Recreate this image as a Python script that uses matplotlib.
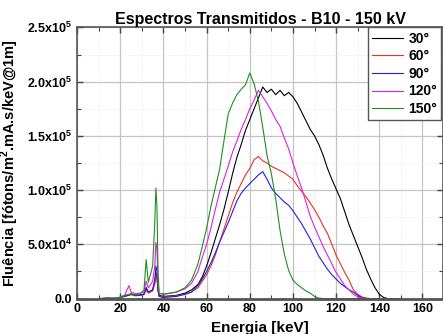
import matplotlib
matplotlib.use('Agg')
import matplotlib.pyplot as plt
from matplotlib.ticker import MultipleLocator

# Espectros transmitidos - B10 - 150 kV (unidade: 1e5)
energia = [10, 14, 18, 20, 22, 24, 25, 27, 29, 31, 32, 33, 35, 36, 36.5, 37, 37.5, 38,
           40, 43, 46, 50, 53, 56, 58, 60, 62, 64, 66, 68, 70, 72, 74, 76, 78, 80,
           82, 84, 86, 88, 90, 92, 94, 96, 98, 100, 102, 104, 106, 108, 110, 112,
           114, 116, 118, 120, 122, 124, 126, 128, 130, 132, 134, 136, 138, 140,
           142, 144, 150]

f30 = [0, 0, 0.003, 0.01, 0.025, 0.03, 0.045, 0.03, 0.035, 0.04, 0.1, 0.06, 0.08, 0.15, 0.24, 0.2, 0.08, 0.03,
       0.02, 0.025, 0.03, 0.05, 0.08, 0.13, 0.2, 0.3, 0.42, 0.55, 0.68, 0.82, 0.98, 1.15, 1.3, 1.42, 1.55, 1.65,
       1.75, 1.85, 1.95, 1.9, 1.93, 1.88, 1.92, 1.87, 1.9, 1.86, 1.8, 1.72, 1.64, 1.56, 1.5, 1.42,
       1.32, 1.2, 1.1, 1.01, 0.92, 0.8, 0.68, 0.58, 0.48, 0.38, 0.27, 0.18, 0.1, 0.04,
       0.01, 0, 0]
f60 = [0, 0, 0.002, 0.008, 0.02, 0.03, 0.035, 0.025, 0.03, 0.035, 0.08, 0.05, 0.07, 0.14, 0.22, 0.18, 0.07, 0.02,
       0.015, 0.02, 0.025, 0.04, 0.06, 0.1, 0.16, 0.22, 0.3, 0.4, 0.52, 0.64, 0.76, 0.88, 0.98, 1.06, 1.14, 1.2,
       1.28, 1.31, 1.27, 1.25, 1.22, 1.2, 1.18, 1.16, 1.13, 1.1, 1.04, 0.99, 0.94, 0.88, 0.82, 0.75,
       0.67, 0.6, 0.5, 0.4, 0.32, 0.24, 0.17, 0.08, 0.04, 0.015, 0.005, 0, 0, 0,
       0, 0, 0]
f90 = [0, 0, 0.002, 0.01, 0.02, 0.035, 0.04, 0.03, 0.03, 0.04, 0.1, 0.06, 0.08, 0.18, 0.3, 0.25, 0.08, 0.02,
       0.01, 0.015, 0.02, 0.04, 0.06, 0.12, 0.18, 0.25, 0.33, 0.42, 0.52, 0.61, 0.7, 0.8, 0.9, 0.97, 1.02, 1.06,
       1.1, 1.14, 1.17, 1.1, 1.02, 0.97, 0.93, 0.89, 0.86, 0.81, 0.75, 0.69, 0.62, 0.55, 0.47, 0.39,
       0.33, 0.27, 0.22, 0.18, 0.14, 0.11, 0.08, 0.06, 0.03, 0.01, 0, 0, 0, 0,
       0, 0, 0]
f120 = [0, 0, 0.003, 0.01, 0.03, 0.12, 0.06, 0.045, 0.05, 0.06, 0.16, 0.1, 0.16, 0.3, 0.52, 0.45, 0.15, 0.05,
        0.04, 0.05, 0.06, 0.09, 0.14, 0.25, 0.38, 0.5, 0.65, 0.82, 0.98, 1.1, 1.22, 1.35, 1.45, 1.56, 1.65, 1.75,
        1.83, 1.92, 1.86, 1.8, 1.73, 1.65, 1.59, 1.48, 1.38, 1.25, 1.13, 1.02, 0.89, 0.76, 0.66, 0.57,
        0.48, 0.4, 0.32, 0.24, 0.18, 0.12, 0.08, 0.04, 0.015, 0.005, 0, 0, 0, 0,
        0, 0, 0]
f150 = [0, 0.01, 0.003, 0.015, 0.03, 0.04, 0.04, 0.035, 0.04, 0.08, 0.36, 0.15, 0.3, 0.7, 1.02, 0.85, 0.25, 0.05,
        0.04, 0.05, 0.06, 0.1, 0.17, 0.32, 0.48, 0.65, 0.85, 1.02, 1.19, 1.45, 1.7, 1.8, 1.88, 1.93, 1.97, 2.08,
        1.98, 1.82, 1.58, 1.32, 1.15, 0.92, 0.63, 0.41, 0.26, 0.17, 0.13, 0.1, 0.07, 0.05, 0.02, 0.005,
        0, 0, 0, 0, 0, 0, 0, 0, 0, 0, 0, 0, 0, 0,
        0, 0, 0]

series = [f30, f60, f90, f120, f150]
nomes = ['30°', '60°', '90°', '120°', '150°']
cores = ['black', '#e8322a', '#2020e0', '#e020e0', '#1e901e']

xticks = [0, 20, 40, 60, 80, 100, 120, 140, 160]
yticks = [0, 0.5e5, 1.0e5, 1.5e5, 2.0e5, 2.5e5]
ylabels = ['0.0', r'5.0x10$^{\mathbf{4}}$', r'1.0x10$^{\mathbf{5}}$', r'1.5x10$^{\mathbf{5}}$',
           r'2.0x10$^{\mathbf{5}}$', r'2.5x10$^{\mathbf{5}}$']

plt.rcParams['font.family'] = 'Liberation Sans'
plt.rcParams['font.weight'] = 'bold'
plt.rcParams['mathtext.fontset'] = 'custom'
plt.rcParams['mathtext.rm'] = 'Liberation Sans:bold'
plt.rcParams['mathtext.bf'] = 'Liberation Sans:bold'

fig = plt.figure(figsize=(4.43, 3.34), dpi=100)
ax = fig.add_axes([0.174, 0.106, 0.826, 0.812])

for v, n, c in zip(series, nomes, cores):
    ax.plot(energia, [y * 1e5 for y in v], color=c, linewidth=0.8, label=n)

ax.set_xlim(0, 169.5)
ax.set_ylim(0, 2.5e5)
ax.set_xticks(xticks)
ax.set_xticklabels([str(t) for t in xticks], fontsize=9, fontweight='bold')
ax.set_yticks(yticks)
ax.set_yticklabels(ylabels, fontsize=9, fontweight='bold')
ax.xaxis.set_minor_locator(MultipleLocator(10))
ax.yaxis.set_minor_locator(MultipleLocator(0.25e5))
ax.tick_params(which='both', direction='in', top=True, right=True, color='#444444')
ax.tick_params(which='major', length=4, width=1)
ax.tick_params(which='minor', length=3, width=0.8)
ax.grid(which='major', color='#c4c4c4', linewidth=0.9)
ax.grid(which='minor', color='#e4e4e4', linewidth=0.6, linestyle=':')
ax.set_axisbelow(True)
for s in ['left', 'top', 'right']:
    ax.spines[s].set_color('#555555')
    ax.spines[s].set_linewidth(1.2)
ax.spines['bottom'].set_color('#555555')
ax.spines['bottom'].set_linewidth(2)

ax.set_title('Espectros Transmitidos - B10 - 150 kV', fontsize=11.5, fontweight='bold', pad=2)
ax.set_xlabel('Energia [keV]', fontsize=11, fontweight='bold', labelpad=4)
ax.set_ylabel(r'Fluência [fótons/m$^{\mathbf{2}}$.mA.s/keV@1m]', fontsize=10.5, fontweight='bold', labelpad=4)

leg = ax.legend(loc='upper left', bbox_to_anchor=(0.795, 1.0), borderaxespad=0,
                fontsize=10, frameon=True, fancybox=False, handlelength=2.2,
                labelspacing=0.26, borderpad=0.3, handletextpad=0.4)
leg.get_frame().set_edgecolor('#555555')
leg.get_frame().set_linewidth(1.0)
leg.get_frame().set_alpha(1)

fig.savefig('out.png', dpi=100)
